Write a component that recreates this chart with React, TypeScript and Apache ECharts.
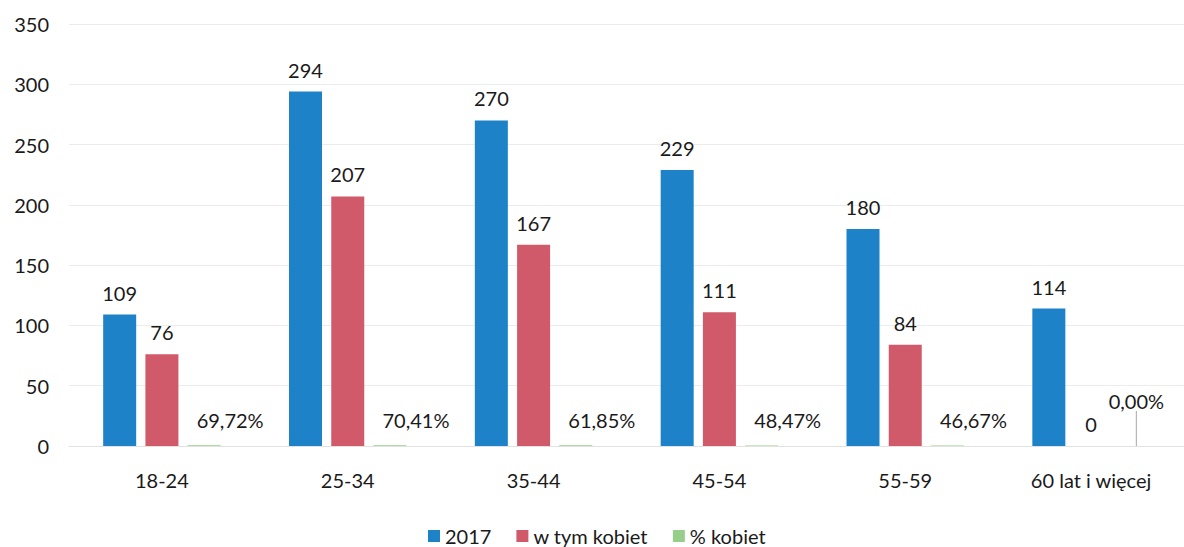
import React, { useEffect, useRef } from "react";
import * as echarts from "echarts";

const categories = ["18-24", "25-34", "35-44", "45-54", "55-59", "60 lat i więcej"];
const total2017 = [109, 294, 270, 229, 180, 114];
const women = [76, 207, 167, 111, 84, 0];
const womenPct = [69.72, 70.41, 61.85, 48.47, 46.67, 0.0];
const yTicks = [0, 50, 100, 150, 200, 250, 300, 350];
const seriesNames = ["2017", "w tym kobiet", "% kobiet"];

const FONT = "Lato, 'Open Sans', sans-serif";
const TEXT = "#1a1a1a";

export default function App() {
  const ref = useRef<HTMLDivElement>(null);
  useEffect(() => {
    if (!ref.current) return;
    const chart = echarts.init(ref.current, undefined, { renderer: "svg" });
    const fmtPct = (v: number) => (v * 100).toFixed(2).replace(".", ",") + "%";
    const last = womenPct.length - 1;
    chart.setOption({
      animation: false,
      textStyle: { fontFamily: FONT, color: TEXT },
      grid: { left: 69, right: 0, top: 24, bottom: 101, containLabel: false },
      legend: {
        data: seriesNames,
        left: 428,
        top: 526,
        padding: 0,
        icon: "rect",
        itemWidth: 12,
        itemHeight: 12,
        itemGap: 25,
        textStyle: { fontFamily: FONT, fontSize: 20, lineHeight: 20, color: TEXT },
      },
      xAxis: {
        type: "category",
        data: categories,
        axisLine: { show: true, lineStyle: { color: "#e2e2e2" } },
        axisTick: { show: false },
        axisLabel: { fontFamily: FONT, fontSize: 20, color: TEXT, margin: 24 },
      },
      yAxis: {
        type: "value",
        min: yTicks[0],
        max: yTicks[yTicks.length - 1],
        interval: 50,
        axisLine: { show: false },
        axisTick: { show: false },
        splitLine: { lineStyle: { color: "#ececec" } },
        axisLabel: { fontFamily: FONT, fontSize: 20, color: TEXT, margin: 20 },
      },
      series: [
        {
          name: seriesNames[0],
          type: "bar",
          data: total2017,
          barWidth: 33,
          barGap: "28%",
          itemStyle: { color: "#1e82c8" },
          label: { show: true, position: "top", distance: 12, fontFamily: FONT, fontSize: 20, color: TEXT },
        },
        {
          name: seriesNames[1],
          type: "bar",
          data: women,
          barWidth: 33,
          barGap: "28%",
          itemStyle: { color: "#d05a6a" },
          label: { show: true, position: "top", distance: 12, fontFamily: FONT, fontSize: 20, color: TEXT },
        },
        {
          name: seriesNames[2],
          type: "bar",
          data: womenPct.map((p, i) => ({
            value: p / 100,
            labelLine: { show: i === last },
          })),
          barWidth: 33,
          barGap: "28%",
          itemStyle: { color: "#97cf8a" },
          label: {
            show: true,
            position: "top",
            distance: 5,
            fontFamily: FONT,
            fontSize: 20,
            color: TEXT,
            formatter: (p: any) => fmtPct(p.value),
          },
          labelLayout: (params: any) =>
            params.dataIndex === last ? { dx: 3, dy: -30 } : { dx: 26, dy: -10 },
          labelLine: { show: true, length2: 0, lineStyle: { color: "#a6a6a6", width: 1 } },
        },
      ],
    });
    return () => chart.dispose();
  }, []);
  return (
    <div
      ref={ref}
      style={{ position: "absolute", left: 0, top: 0, width: 1184, height: 547, background: "#fff" }}
    />
  );
}
